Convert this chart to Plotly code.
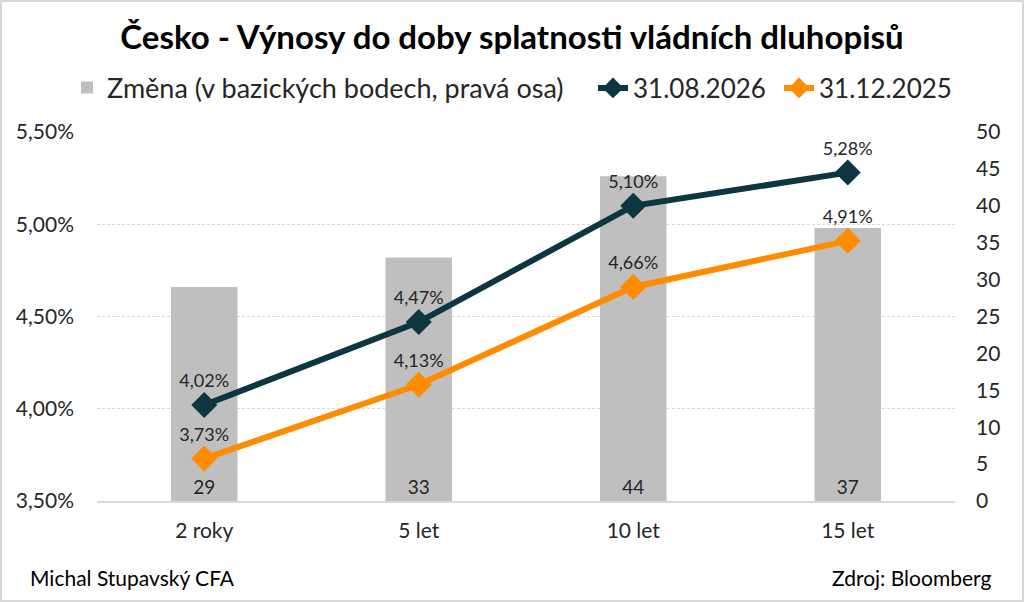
import plotly.graph_objects as go

categories = ["2 roky", "5 let", "10 let", "15 let"]
change_bp = [29, 33, 44, 37]
yield_2026 = [4.02, 4.47, 5.10, 5.28]
yield_2025 = [3.73, 4.13, 4.66, 4.91]

FONT = "Lato, Carlito, Calibri, sans-serif"
DARK = "#0d3640"
ORANGE = "#ff8c00"
GREY = "#bfbfbf"
TXT = "#262626"

W, H = 1024, 602
L, R, T, B = 97, 69, 132, 101
pw, ph = W - L - R, H - T - B

fig = go.Figure()
fig.add_trace(go.Bar(
    x=categories, y=change_bp, name="Změna (v bazických bodech, pravá osa)",
    marker=dict(color=GREY, line=dict(width=0)), width=0.31,
    text=[str(v) for v in change_bp], textposition="inside", insidetextanchor="start",
    textfont=dict(size=19, color=TXT, family=FONT), yaxis="y",
    cliponaxis=False, legend="legend",
))
fig.add_trace(go.Scatter(
    x=categories, y=yield_2026, name="31.08.2026", mode="lines+markers+text",
    line=dict(color=DARK, width=6), marker=dict(symbol="diamond", size=20, color=DARK),
    text=[f"{v:.2f}%".replace(".", ",") for v in yield_2026], textposition="top center",
    textfont=dict(size=18, color=TXT, family=FONT), yaxis="y2", cliponaxis=False,
    legend="legend2",
))
fig.add_trace(go.Scatter(
    x=categories, y=yield_2025, name="31.12.2025", mode="lines+markers+text",
    line=dict(color=ORANGE, width=6), marker=dict(symbol="diamond", size=20, color=ORANGE),
    text=[f"{v:.2f}%".replace(".", ",") for v in yield_2025], textposition="top center",
    textfont=dict(size=18, color=TXT, family=FONT), yaxis="y2", cliponaxis=False,
    legend="legend3",
))

def leg(text_start_px, size=26):
    return dict(orientation="h", x=(text_start_px - 41 - L) / pw, xanchor="left",
                y=1 + 44 / ph, yanchor="middle", bgcolor="rgba(0,0,0,0)",
                font=dict(size=size, color=TXT, family=FONT))

fig.update_layout(
    width=W, height=H,
    margin=dict(l=L, r=R, t=T, b=B),
    paper_bgcolor="white", plot_bgcolor="white",
    font=dict(family=FONT, color=TXT),
    separators=", ",
    showlegend=True,
    title=dict(text="<b>Česko - Výnosy do doby splatnosti vládních dluhopisů</b>",
               x=0.5, xanchor="center", y=1 - 37 / H, yanchor="middle",
               font=dict(size=33, color="black", family=FONT)),
    legend=leg(108, 27),
    legend2=leg(634),
    legend3=leg(820),
    xaxis=dict(type="category", showgrid=False, showline=True, linecolor="#d9d9d9",
               linewidth=1.5, ticks="", tickfont=dict(size=21, color=TXT), ticklabelstandoff=10),
    yaxis=dict(side="right", range=[0, 50], dtick=5, showgrid=False, zeroline=False,
               tickfont=dict(size=21, color=TXT), ticks="", showline=False, ticklabelstandoff=20),
    yaxis2=dict(side="left", overlaying="y", range=[3.5, 5.5], dtick=0.5,
                tickformat=".2f", ticksuffix="%", showgrid=True, gridcolor="#d9d9d9",
                griddash="3px,2px", gridwidth=1, zeroline=False, ticks="",
                tickfont=dict(size=21, color=TXT), ticklabelstandoff=22),
    bargap=0.69,
)

fig.add_annotation(text="Michal Stupavský CFA", xref="paper", yref="paper",
                   x=-(L - 28) / pw, y=-(577 - (T + ph)) / ph, xanchor="left", yanchor="middle",
                   showarrow=False, font=dict(size=21, color="black", family=FONT))
fig.add_annotation(text="Zdroj: Bloomberg", xref="paper", yref="paper",
                   x=1 + (993 - (L + pw)) / pw, y=-(577 - (T + ph)) / ph, xanchor="right",
                   yanchor="middle", showarrow=False, font=dict(size=21, color="black", family=FONT))
fig.add_shape(type="rect", xref="paper", yref="paper",
              x0=-(L - 1) / pw, x1=1 + (R - 1) / pw, y0=-(B - 1) / ph, y1=1 + (T - 1) / ph,
              line=dict(color="#d9d9d9", width=2), fillcolor="rgba(0,0,0,0)", layer="below")

fig.write_html("out.html", config={"displayModeBar": False},
               post_script="document.body.style.margin='0';document.body.style.overflow='hidden';")
